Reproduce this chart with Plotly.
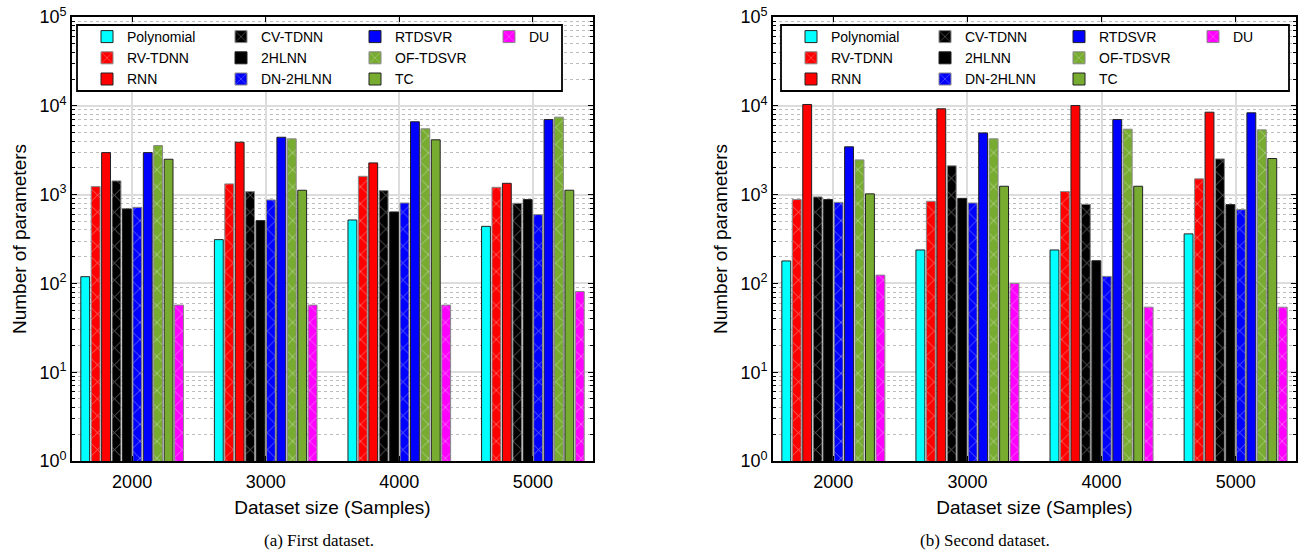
import plotly.graph_objects as go

categories = ["2000", "3000", "4000", "5000"]
methods = ["Polynomial", "RV-TDNN", "RNN", "CV-TDNN", "2HLNN", "DN-2HLNN",
           "RTDSVR", "OF-TDSVR", "TC", "DU"]
colors = ["#00FFFF", "#FF0000", "#FF0000", "#000000", "#000000", "#0000FF",
          "#0000FF", "#77AC30", "#77AC30", "#FF00FF"]
hatched = [False, True, False, True, False, True, False, True, False, True]
legend_cols = ["c1", "c1", "c1", "c2", "c2", "c2", "c3", "c3", "c3", "c4"]

# First dataset (values per method across dataset sizes)
first_dataset = {
    "Polynomial": [119, 311, 518, 439],
    "RV-TDNN":    [1230, 1320, 1607, 1208],
    "RNN":        [2970, 3890, 2274, 1340],
    "CV-TDNN":    [1427, 1081, 1109, 798],
    "2HLNN":      [690, 509, 638, 878],
    "DN-2HLNN":   [719, 871, 805, 596],
    "RTDSVR":     [2970, 4425, 6610, 7000],
    "OF-TDSVR":   [3566, 4246, 5510, 7450],
    "TC":         [2500, 1119, 4140, 1120],
    "DU":         [57, 57, 57, 81],
}
# Second dataset
second_dataset = {
    "Polynomial": [179, 238, 238, 361],
    "RV-TDNN":    [879, 841, 1082, 1504],
    "RNN":        [10350, 9250, 10070, 8470],
    "CV-TDNN":    [942, 2110, 777, 2525],
    "2HLNN":      [879, 907, 180, 771],
    "DN-2HLNN":   [818, 805, 120, 677],
    "RTDSVR":     [3450, 4950, 7000, 8340],
    "OF-TDSVR":   [2460, 4250, 5450, 5360],
    "TC":         [1019, 1242, 1242, 2548],
    "DU":         [124, 100, 54, 54],
}
y_tickvals = [1, 10, 100, 1000, 10000, 100000]
y_ticktext = ["10<sup>0</sup>", "10<sup>1</sup>", "10<sup>2</sup>",
              "10<sup>3</sup>", "10<sup>4</sup>", "10<sup>5</sup>"]
x_title = "Dataset size (Samples)"
y_title = "Number of parameters"
captions = ["(a) First dataset.", "(b) Second dataset."]

# the page body margin is removed (post_script below), so the figure fills the view
OFF = 0
W, H = 1304 - OFF, 555 - OFF
fig = go.Figure()

panels = [(first_dataset, "x", "y", "legend", "L"),
          (second_dataset, "x2", "y2", "legend2", "R")]
for data, xa, ya, lg, pref in panels:
    for m, c, h, g in zip(methods, colors, hatched, legend_cols):
        marker = dict(color=c, line=dict(color="#888888" if h else "#222222", width=1))
        if h:
            marker["pattern"] = dict(shape="x", fgcolor="white", size=12,
                                     solidity=0.12, fillmode="overlay")
        fig.add_trace(go.Bar(x=categories, y=data[m], name=m, marker=marker,
                             xaxis=xa, yaxis=ya, legend=lg,
                             legendgroup=pref + g))


def px_x(p):
    return (p - OFF) / W


def px_y(p):
    return 1 - (p - OFF) / H


top, bottom = 17, 461
dom_y = [px_y(bottom), px_y(top)]
dom_x1 = [px_x(72), px_x(593)]
dom_x2 = [px_x(773), px_x(1296)]

font_main = "Liberation Sans, Arial, sans-serif"
axis_common = dict(showline=True, linecolor="black", linewidth=1.6, mirror="allticks",
                   ticks="inside", tickcolor="black", ticklen=5, tickwidth=1.2,
                   tickfont=dict(family=font_main, size=18, color="black"),
                   showgrid=True, gridcolor="#DCDCDC", gridwidth=1.6, zeroline=False,
                   automargin=False, ticklabeloverflow="allow")

xaxis_common = dict(axis_common, type="category", range=[-0.45, 3.45],
                    ticklabelstandoff=4,
                    title=dict(text=x_title, font=dict(family=font_main, size=19, color="black"),
                               standoff=9))
yaxis_common = dict(axis_common, type="log", range=[0, 5],
                    tickvals=y_tickvals, ticktext=y_ticktext,
                    minor=dict(ticks="inside", ticklen=3, tickcolor="black", dtick="D1",
                               showgrid=True, gridcolor="#BDBDBD", griddash="dot",
                               gridwidth=1.2),
                    title=dict(text=y_title, font=dict(family=font_main, size=19, color="black"),
                               standoff=8))

legend_common = dict(orientation="h", traceorder="grouped", bgcolor="rgba(0,0,0,0)",
                     borderwidth=0, font=dict(family=font_main, size=14, color="black"),
                     entrywidth=89, tracegroupgap=0, xanchor="left", yanchor="top",
                     itemclick=False, itemdoubleclick=False)

cap_font = dict(family="Liberation Serif, Times New Roman, serif", size=17, color="black")

fig.update_layout(
    width=W, height=H, margin=dict(l=0, r=0, t=0, b=0, autoexpand=False),
    paper_bgcolor="white", plot_bgcolor="white",
    barmode="group", bargap=0.22, bargroupgap=0.15,
    showlegend=True,
    xaxis=dict(xaxis_common, domain=dom_x1, anchor="y"),
    yaxis=dict(yaxis_common, domain=dom_y, anchor="x"),
    xaxis2=dict(xaxis_common, domain=dom_x2, anchor="y2"),
    yaxis2=dict(yaxis_common, domain=dom_y, anchor="x2"),
    legend=dict(legend_common, x=px_x(87), y=px_y(21)),
    legend2=dict(legend_common, x=px_x(791), y=px_y(21)),
    shapes=[
        dict(type="rect", xref="paper", yref="paper", x0=px_x(77), x1=px_x(562),
             y0=px_y(91), y1=px_y(25), line=dict(color="black", width=1.8),
             fillcolor="white", layer="above"),
        dict(type="rect", xref="paper", yref="paper", x0=px_x(781), x1=px_x(1289),
             y0=px_y(91), y1=px_y(25), line=dict(color="black", width=1.8),
             fillcolor="white", layer="above"),
    ],
    annotations=[
        dict(text=captions[0], xref="paper", yref="paper", x=px_x(319), y=px_y(540),
             xanchor="center", yanchor="middle", showarrow=False, font=cap_font),
        dict(text=captions[1], xref="paper", yref="paper", x=px_x(985), y=px_y(540),
             xanchor="center", yanchor="middle", showarrow=False, font=cap_font),
    ],
)

fig.write_html("out.html", config={"displayModeBar": False},
               post_script="document.body.style.margin='0';document.body.style.overflow='hidden';")
